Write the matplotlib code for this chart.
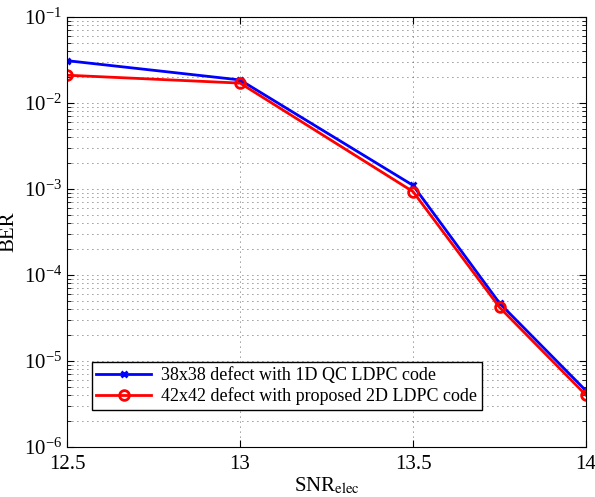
import matplotlib.pyplot as plt
from matplotlib.ticker import LogLocator, NullFormatter

plt.rcParams['font.family'] = ['Liberation Serif', 'DejaVu Serif']
plt.rcParams['mathtext.fontset'] = 'stix'

snr = [12.5, 13, 13.5, 13.75, 14]
ber_1d = [3.1e-2, 1.85e-2, 1.1e-3, 4.7e-5, 4.5e-6]
ber_2d = [2.1e-2, 1.7e-2, 9.3e-4, 4.2e-5, 4.0e-6]
labels = ['38x38 defect with 1D QC LDPC code', '42x42 defect with proposed 2D LDPC code']

fig = plt.figure(figsize=(5.95, 4.97), dpi=100)
ax = fig.add_axes([0.1126, 0.1006, 0.8724, 0.8654])

ax.semilogy(snr, ber_1d, color='blue', lw=2, marker='x', ms=5, mew=2, label=labels[0])
ax.semilogy(snr, ber_2d, color='red', lw=2, marker='o', ms=7, mew=2, mfc='none', label=labels[1])

ax.set_xlim(12.5, 14)
ax.set_ylim(1e-6, 1e-1)
ax.set_xticks([12.5, 13, 13.5, 14])
ax.set_xticklabels(['12.5', '13', '13.5', '14'])
ax.yaxis.set_major_locator(LogLocator(base=10, numticks=10))
ax.yaxis.set_minor_locator(LogLocator(base=10, subs=range(2, 10), numticks=10))
ax.yaxis.set_minor_formatter(NullFormatter())

ax.grid(True, which='major', linestyle=(0, (1, 5)), color='#333333', lw=0.6)
ax.grid(True, which='minor', axis='y', linestyle=(0, (1, 5)), color='#333333', lw=0.6)
ax.tick_params(which='both', direction='in', top=True, right=True, labelsize=15)
ax.tick_params(axis='x', pad=6)
ax.tick_params(which='major', length=5)
ax.tick_params(which='minor', length=3)

ax.set_xlabel(r'SNR$_{\mathrm{elec}}$', fontsize=15, labelpad=1)
ax.set_ylabel('BER', fontsize=15)

leg = ax.legend(loc='lower left', bbox_to_anchor=(0.048, 0.086), borderaxespad=0,
                fontsize=13, fancybox=False, framealpha=1, edgecolor='black',
                borderpad=0.25, handlelength=3, handletextpad=0.6, labelspacing=0.2)
leg.get_frame().set_linewidth(1)

fig.savefig('out.png', dpi=100)
